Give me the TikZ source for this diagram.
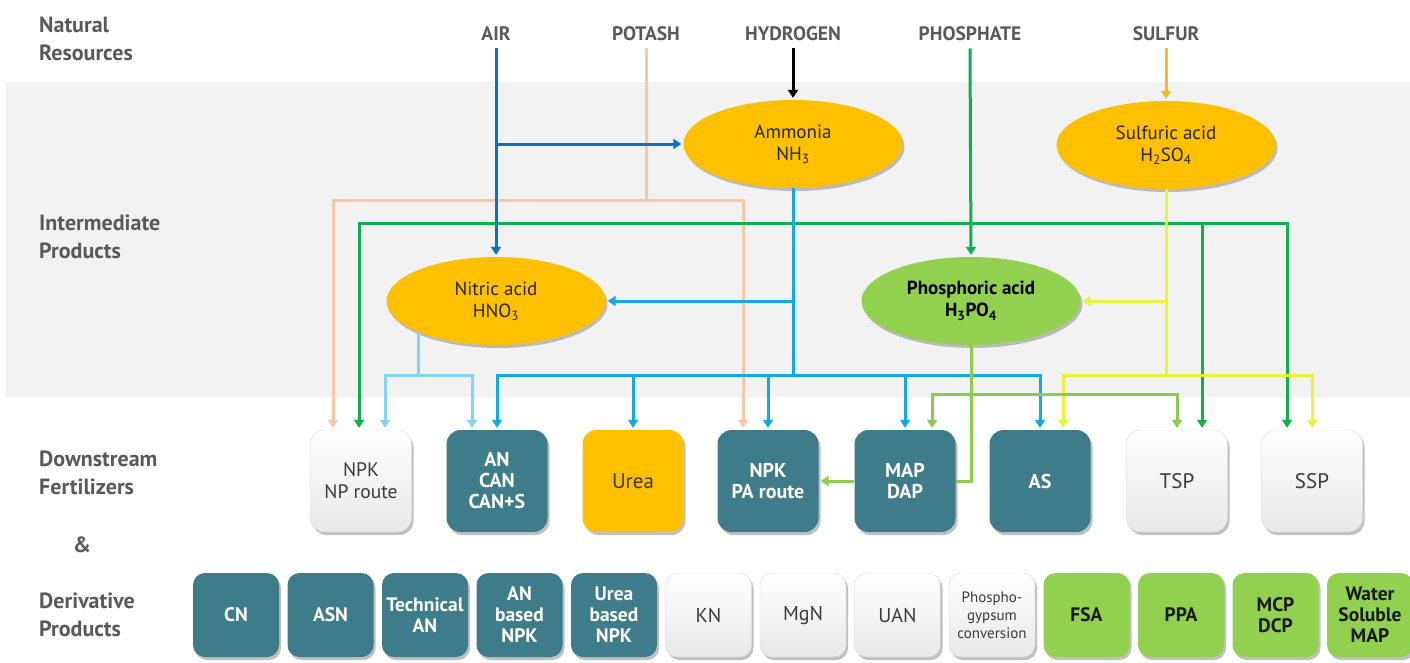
\documentclass[tikz,border=0pt]{standalone}
\usepackage{fontspec}
\setmainfont{PT Sans}
\usetikzlibrary{arrows.meta,shadows,shapes.geometric,calc}
\definecolor{bandc}{HTML}{F2F2F2}
\definecolor{lblgray}{HTML}{595959}
\definecolor{tealc}{HTML}{3E7C89}
\definecolor{ambc}{HTML}{FFC000}
\definecolor{lgreen}{HTML}{92D050}
\definecolor{aircol}{HTML}{0A72C4}
\definecolor{ammcol}{HTML}{14A8E8}
\definecolor{nitcol}{HTML}{86D3F5}
\definecolor{potcol}{HTML}{F7C7AA}
\definecolor{phcol}{HTML}{10B04C}
\definecolor{sulcol}{HTML}{F8B922}
\definecolor{sacol}{HTML}{E8F53A}
\definecolor{pacol}{HTML}{8CCB4C}
\definecolor{boxtext}{HTML}{3A3A3A}
\begin{document}
\begin{tikzpicture}[x=1pt,y=-1pt,
  sidelbl/.style={anchor=west,align=left,inner sep=0pt,text=lblgray,font=\bfseries\fontsize{22}{28}\selectfont},
  srclbl/.style={inner sep=0pt,text=lblgray,font=\bfseries\fontsize{19.5}{22}\selectfont},
  shad/.style={drop shadow={shadow xshift=2pt,shadow yshift=-3pt,fill=black!45,opacity=.55}},
  chem/.style={ellipse,inner sep=0pt,minimum width=219,minimum height=88,fill=ambc,align=center,text=black!85,font=\fontsize{19}{22}\selectfont,shad},
  fbox/.style={rounded corners=14pt,minimum width=101,minimum height=102,inner sep=0pt,align=center,shad},
  tealbox/.style={fbox,fill=tealc,text=white,font=\bfseries\fontsize{20}{21}\selectfont},
  lightbox/.style={fbox,top color=white,bottom color=black!9,draw=black!15,text=boxtext,font=\fontsize{21}{22}\selectfont},
  urbox/.style={fbox,fill=ambc,text=boxtext,font=\fontsize{21}{22}\selectfont},
  dsmall/.style={minimum width=86,minimum height=84,rounded corners=12pt},
  dteal/.style={tealbox,dsmall,font=\bfseries\fontsize{19.5}{21}\selectfont},
  dlight/.style={lightbox,dsmall,font=\fontsize{20}{21}\selectfont},
  dgreen/.style={fbox,dsmall,fill=lgreen,text=black!90,font=\bfseries\fontsize{19.5}{21}\selectfont},
  pipe/.style={line width=3pt},
  flow/.style={line width=3pt,-{Triangle[width=10pt,length=8pt]},shorten >=2pt},
]
\useasboundingbox (0,0) rectangle (1410,662);
\fill[bandc] (6,82) rectangle (1410,397);

% side labels
\node[sidelbl] (lnat) at (39,39) {Natural\\Resources};
\node[sidelbl] (lint) at (39,237) {Intermediate\\Products};
\node[sidelbl] (ldown) at (39,473) {Downstream\\Fertilizers};
\node[sidelbl,anchor=center] (lamp) at (82,545) {\&};
\node[sidelbl] (lder) at (39,615) {Derivative\\Products};

% sources
\node[srclbl] (air) at (496,34) {AIR};
\node[srclbl] (potash) at (646,34) {POTASH};
\node[srclbl] (hyd) at (793,34) {HYDROGEN};
\node[srclbl] (phos) at (970,34) {PHOSPHATE};
\node[srclbl] (sulf) at (1166,34) {SULFUR};

% intermediates
\node[chem] (amm) at (793,144) {Ammonia\\NH\textsubscript{3}};
\node[chem] (sulacid) at (1166,145) {Sulfuric acid\\H\textsubscript{2}SO\textsubscript{4}};
\node[chem] (nit) at (496,301) {Nitric acid\\HNO\textsubscript{3}};
\node[chem,fill=lgreen,text=black,font=\bfseries\fontsize{19}{22}\selectfont] (pacid) at (971,301) {Phosphoric acid\\H\textsubscript{3}PO\textsubscript{4}};

% downstream fertilizers
\node[lightbox,font=\fontsize{19.5}{22}\selectfont] (npknp) at (361,481) {NPK\\NP route};
\node[tealbox] (ancan) at (497,481) {AN\\CAN\\CAN+S};
\node[urbox] (urea) at (633,481) {Urea};
\node[tealbox] (npkpa) at (768,481) {NPK\\PA route};
\node[tealbox] (mapdap) at (905,481) {MAP\\DAP};
\node[tealbox] (as) at (1040,481) {AS};
\node[lightbox] (tsp) at (1177,481) {TSP};
\node[lightbox] (ssp) at (1312,481) {SSP};

% derivative products
\node[dteal] (cn) at (236,615) {CN};
\node[dteal] (asn) at (330.5,615) {ASN};
\node[dteal] (tan) at (425,615) {Technical\\AN};
\node[dteal] (anb) at (519.5,615) {AN\\based\\NPK};
\node[dteal] (ureab) at (614,615) {Urea\\based\\NPK};
\node[dlight] (kn) at (708.5,615) {KN};
\node[dlight] (mgn) at (803,615) {MgN};
\node[dlight] (uan) at (897.5,615) {UAN};
\node[dlight,font=\fontsize{15}{18}\selectfont] (pgc) at (992,615) {Phospho-\\gypsum\\conversion};
\node[dgreen] (fsa) at (1086.5,615) {FSA};
\node[dgreen] (ppa) at (1181,615) {PPA};
\node[dgreen] (mcp) at (1275.5,615) {MCP\\DCP};
\node[dgreen] (wsm) at (1370,615) {Water\\Soluble\\MAP};

% potash
\draw[pipe,potcol] ([yshift=-7pt]potash.south) -- (potash.south |- 0,200) coordinate (pj);
\draw[flow,potcol] (pj) -| ([xshift=-28pt]npknp.north);
\draw[flow,potcol] (pj) -| ([xshift=-25pt]npkpa.north);

% phosphate
\draw[flow,phcol] ([yshift=-7pt]phos.south) -- (pacid.north);
\draw[flow,phcol] (pacid.north |- 0,223) coordinate (gj) -| ([xshift=-2pt]npknp.north);
\draw[flow,phcol] (gj) -| ([xshift=25pt]tsp.north);
\draw[flow,phcol] (gj) -| ([xshift=-25pt]ssp.north);

% air
\draw[flow,aircol] ([yshift=-7pt]air.south) -- (nit.north);
\draw[flow,aircol] (nit.north |- amm.west) -- (amm.west);

% hydrogen
\draw[flow,black] ([yshift=-7pt]hyd.south) -- (amm.north);

% ammonia
\draw[pipe,ammcol] (amm.south) -- (amm.south |- 0,375) coordinate (bj);
\draw[flow,ammcol] (amm.south |- nit.east) -- (nit.east);
\draw[flow,ammcol] (bj) -| (ancan.north);
\draw[flow,ammcol] (bj) -| (urea.north);
\draw[flow,ammcol] (bj) -| (npkpa.north);
\draw[flow,ammcol] (bj) -| (mapdap.north);
\draw[flow,ammcol] (bj) -| (as.north);

% nitric acid
\draw[pipe,nitcol] (nit.202) -- (nit.202 |- 0,375) coordinate (lj);
\draw[flow,nitcol] (lj) -| ([xshift=24pt]npknp.north);
\draw[flow,nitcol] (lj) -| ([xshift=-25pt]ancan.north);

% sulfur
\draw[flow,sulcol] ([yshift=-7pt]sulf.south) -- (sulacid.north);

% sulfuric acid
\draw[pipe,sacol] (sulacid.south) -- (sulacid.south |- 0,375) coordinate (yj);
\draw[flow,sacol] (sulacid.south |- pacid.east) -- (pacid.east);
\draw[flow,sacol] (yj) -| ([xshift=23pt]as.north);
\draw[flow,sacol] (yj) -| (ssp.north);

% phosphoric acid
\draw[pipe,pacol] (pacid.south) |- (mapdap.east);
\draw[flow,pacol] (pacid.south |- 0,394) coordinate (qj) -| ([xshift=27pt]mapdap.north);
\draw[flow,pacol] (qj) -| (tsp.north);
\draw[flow,pacol] (mapdap.west) -- (npkpa.east);
\end{tikzpicture}
\end{document}
